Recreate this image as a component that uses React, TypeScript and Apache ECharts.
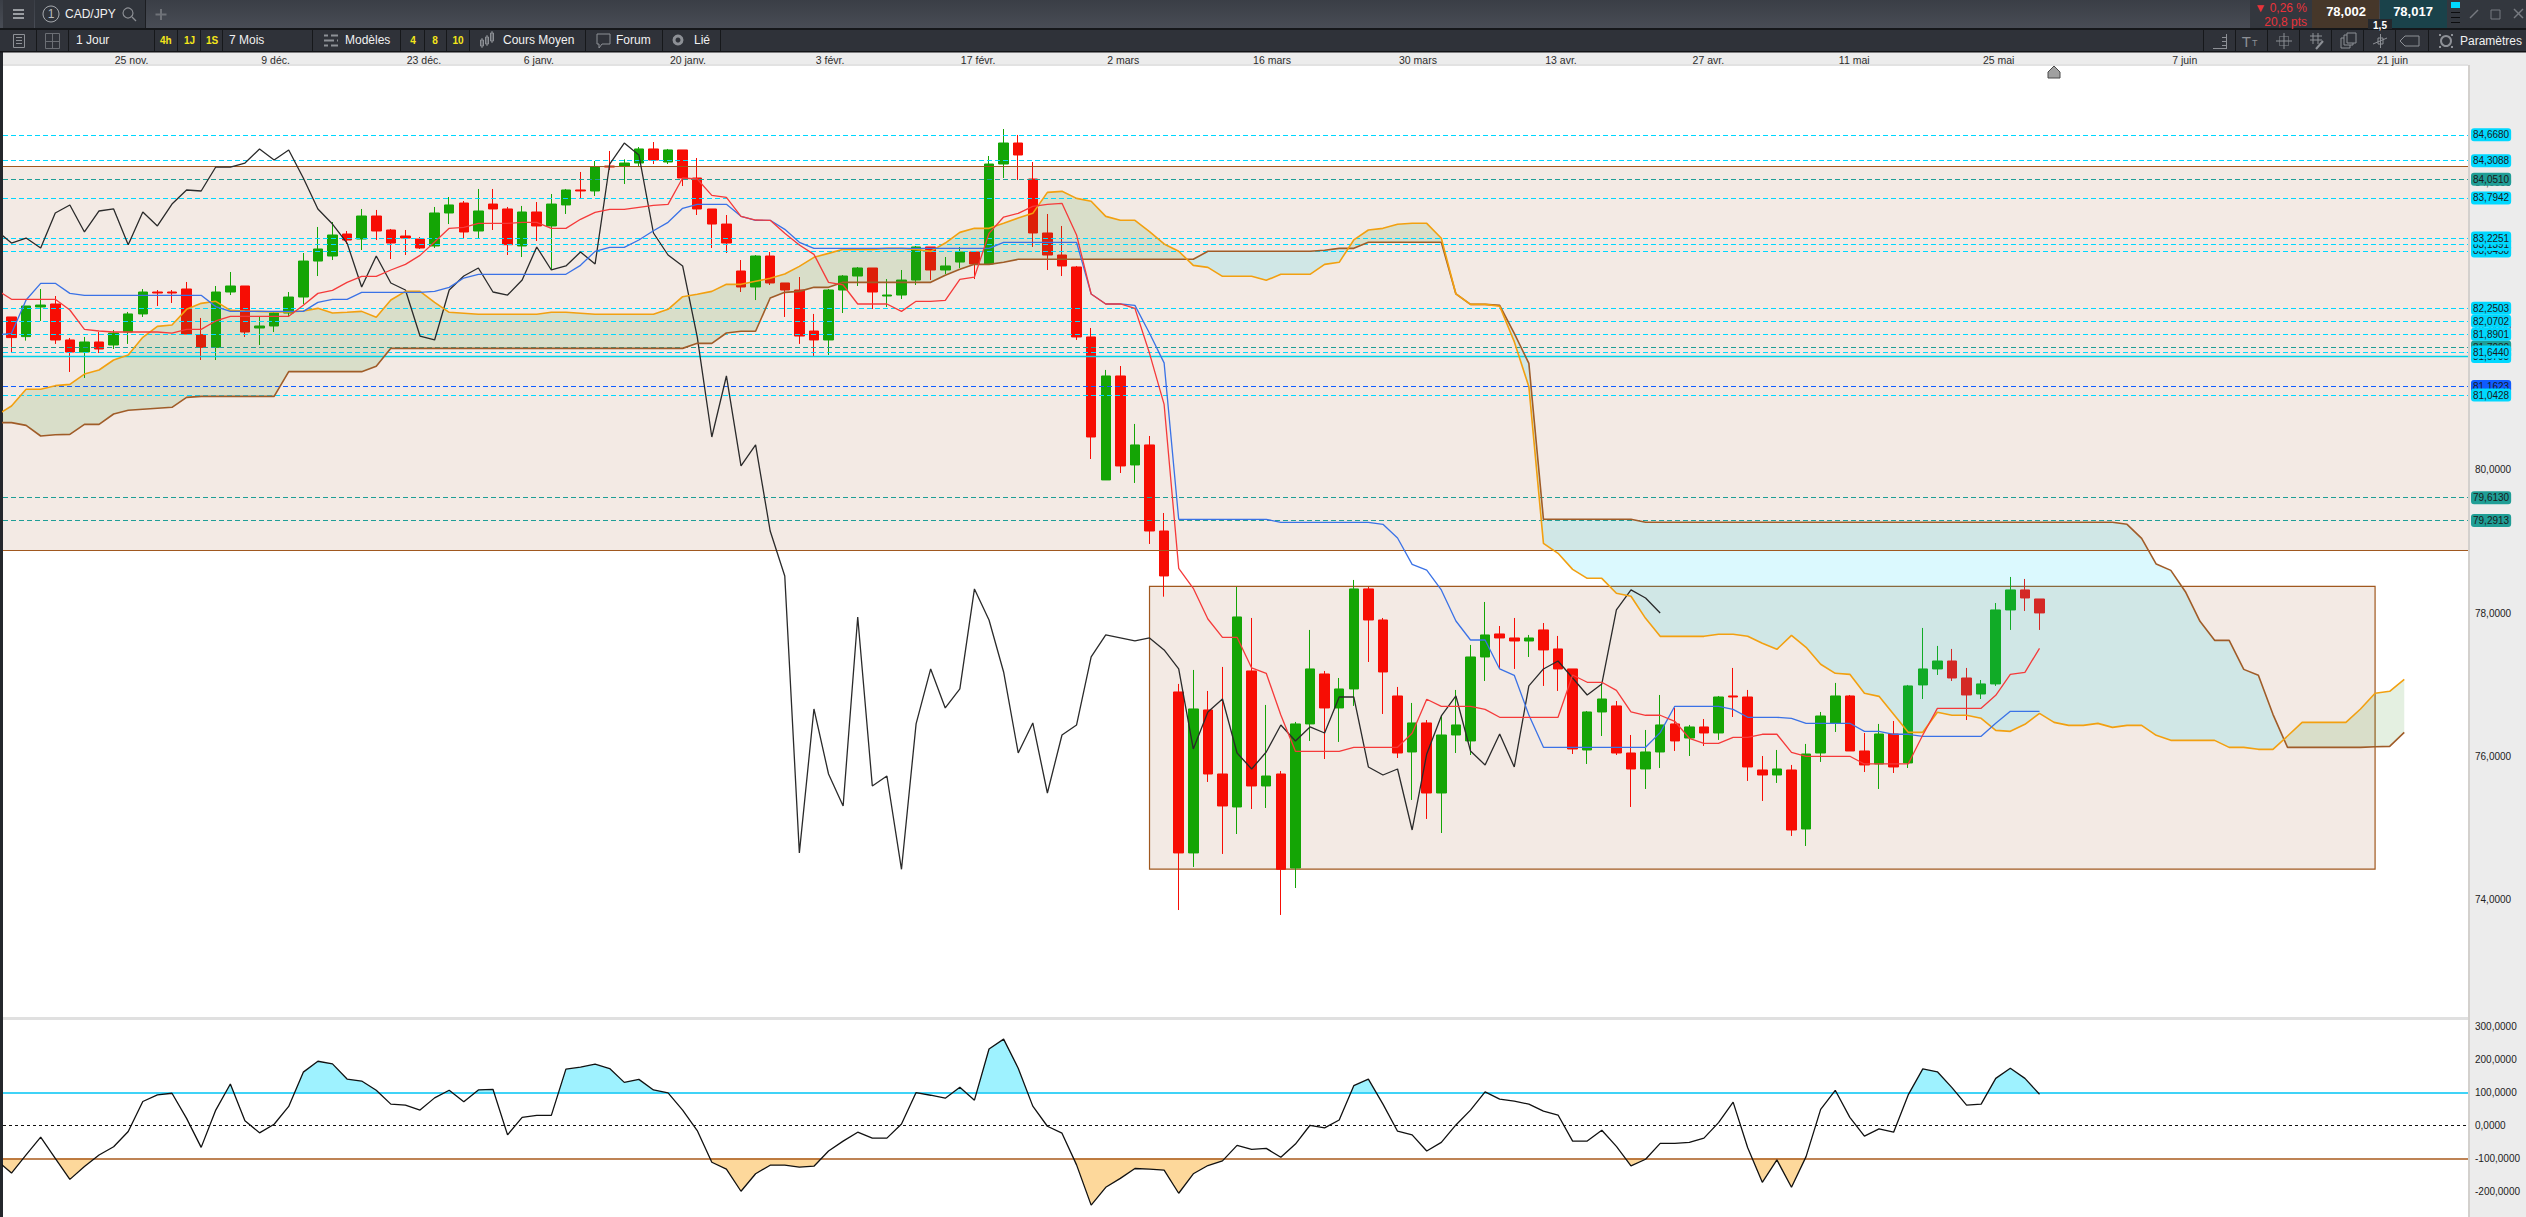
import React, { useEffect, useRef } from "react";
import * as echarts from "echarts";

const FONT = "'Liberation Sans', Arial, sans-serif";

// x positions are bar numbers; bar 0 is the first candle on the screen
const dateTickBars = [8.23, 18.1, 28.27, 36.15, 46.36, 56.1, 66.25, 76.2, 86.4, 96.4, 106.2, 116.3, 126.3, 136.2, 148.95, 163.2];
const dateTickLabels = ["25 nov.", "9 déc.", "23 déc.", "6 janv.", "20 janv.", "3 févr.", "17 févr.", "2 mars", "16 mars", "30 mars", "13 avr.", "27 avr.", "11 mai", "25 mai", "7 juin", "21 juin"];
const priceTicks = [74, 76, 78, 80, 82, 84];
const cciTicks = [-200, -100, 0, 100, 200, 300];

const opens = [
  82.130, 81.856, 82.269, 82.311, 81.809, 81.641, 81.781, 81.739, 81.920, 82.172,
  82.478, 82.478, 82.520, 81.883, 81.706, 82.478, 82.562, 81.976, 82.004, 82.185,
  82.408, 82.910, 82.980, 83.287, 83.217, 83.538, 83.343, 83.259, 83.217, 83.120,
  83.580, 83.719, 83.329, 83.705, 83.636, 83.120, 83.594, 83.399, 83.692, 83.901,
  83.887, 84.235, 84.235, 84.277, 84.473, 84.291, 84.459, 84.068, 83.636, 83.426,
  82.771, 82.548, 82.980, 82.604, 82.506, 81.934, 81.809, 82.506, 82.701, 82.813,
  82.422, 82.436, 82.645, 83.106, 82.785, 82.896, 83.036, 82.869, 84.263, 84.556,
  84.054, 83.301, 82.994, 82.827, 81.851, 79.857, 81.307, 80.066, 80.345, 79.145,
  76.900, 74.655, 76.649, 75.756, 75.296, 77.193, 75.589, 75.756, 74.445, 76.454,
  77.151, 76.677, 76.942, 78.337, 77.904, 76.844, 76.063, 76.468, 75.491, 76.300,
  76.217, 77.388, 77.709, 77.653, 77.611, 77.765, 77.500, 77.221, 76.091, 76.621,
  76.705, 76.049, 75.826, 76.063, 76.454, 76.258, 76.412, 76.328, 76.844, 76.830,
  75.812, 75.742, 75.812, 74.989, 76.049, 76.463, 76.844, 76.077, 75.896, 76.314,
  75.910, 76.998, 77.221, 77.332, 77.095, 76.872, 77.012, 78.044, 78.323, 78.197,
];
const closes = [
  81.842, 82.283, 82.296, 81.809, 81.641, 81.781, 81.683, 81.906, 82.172, 82.478,
  82.464, 82.464, 81.892, 81.706, 82.478, 82.562, 81.920, 82.004, 82.185, 82.408,
  82.910, 83.078, 83.273, 83.203, 83.538, 83.329, 83.161, 83.231, 83.092, 83.580,
  83.692, 83.315, 83.608, 83.636, 83.138, 83.594, 83.399, 83.705, 83.901, 83.887,
  84.221, 84.221, 84.277, 84.473, 84.319, 84.459, 84.068, 83.636, 83.426, 83.161,
  82.548, 82.980, 82.604, 82.506, 81.864, 81.809, 82.506, 82.701, 82.813, 82.478,
  82.436, 82.645, 83.106, 82.785, 82.841, 83.036, 82.869, 84.263, 84.556, 84.389,
  83.301, 82.994, 82.841, 81.851, 80.456, 81.307, 80.052, 80.345, 79.145, 78.518,
  74.655, 76.663, 75.756, 75.310, 77.946, 75.589, 75.728, 74.427, 76.454, 77.221,
  76.677, 76.942, 78.337, 77.904, 77.179, 76.049, 76.468, 75.491, 76.300, 76.440,
  77.388, 77.695, 77.653, 77.611, 77.653, 77.486, 77.221, 76.105, 76.621, 76.802,
  76.049, 75.826, 76.063, 76.440, 76.217, 76.412, 76.328, 76.830, 76.830, 75.854,
  75.742, 75.826, 74.975, 76.035, 76.565, 76.844, 76.077, 75.882, 76.314, 75.854,
  76.984, 77.221, 77.332, 77.095, 76.858, 77.012, 78.044, 78.323, 78.211, 78.002,
];
const lows = [
  81.632, 81.800, 82.074, 81.754, 81.363, 81.279, 81.627, 81.683, 81.754, 82.130,
  82.283, 82.325, 81.892, 81.530, 81.530, 82.436, 81.851, 81.739, 81.920, 82.144,
  82.311, 82.701, 82.924, 83.147, 83.064, 83.203, 82.938, 82.994, 83.078, 83.092,
  83.426, 83.231, 83.217, 83.343, 82.994, 82.966, 83.189, 82.785, 83.566, 83.789,
  83.817, 84.180, 83.984, 84.221, 84.263, 84.263, 83.956, 83.552, 83.092, 83.022,
  82.478, 82.366, 82.576, 82.130, 81.754, 81.586, 81.600, 82.185, 82.562, 82.241,
  82.269, 82.380, 82.576, 82.645, 82.729, 82.813, 82.659, 82.869, 84.068, 84.040,
  83.106, 82.785, 82.701, 81.809, 80.149, 79.857, 79.954, 79.815, 78.964, 78.229,
  73.859, 74.459, 75.645, 74.641, 74.919, 75.268, 75.282, 73.790, 74.166, 76.217,
  75.965, 76.203, 76.705, 77.318, 76.593, 75.979, 75.394, 75.129, 74.933, 76.049,
  76.021, 77.053, 77.221, 77.221, 77.388, 76.984, 76.914, 76.035, 75.896, 76.286,
  76.021, 75.296, 75.547, 75.840, 76.077, 76.007, 76.147, 76.231, 76.551, 75.659,
  75.380, 75.631, 74.892, 74.752, 75.924, 76.342, 76.077, 75.784, 75.547, 75.770,
  75.840, 76.802, 77.137, 77.053, 76.509, 76.802, 76.984, 77.765, 78.030, 77.765,
];
const highs = [
  82.130, 82.283, 82.520, 82.422, 81.837, 81.851, 81.920, 81.948, 82.200, 82.520,
  82.506, 82.506, 82.618, 82.116, 82.562, 82.757, 82.562, 82.130, 82.213, 82.478,
  83.022, 83.385, 83.454, 83.329, 83.636, 83.622, 83.357, 83.343, 83.245, 83.664,
  83.803, 83.747, 83.915, 83.915, 83.664, 83.678, 83.733, 83.845, 83.915, 84.152,
  84.305, 84.445, 84.328, 84.500, 84.570, 84.473, 84.459, 84.347, 83.636, 83.552,
  82.924, 82.994, 83.036, 82.604, 82.687, 82.172, 82.520, 82.715, 82.827, 82.813,
  82.659, 82.785, 83.120, 83.106, 82.966, 83.106, 83.036, 84.375, 84.751, 84.668,
  84.291, 83.566, 83.399, 82.841, 81.976, 81.391, 81.446, 80.638, 80.470, 79.396,
  77.012, 77.207, 76.914, 77.249, 78.364, 77.932, 76.719, 75.798, 76.482, 77.765,
  77.193, 77.095, 78.462, 78.364, 77.932, 76.970, 76.747, 76.509, 76.565, 76.928,
  77.556, 78.155, 77.820, 77.932, 77.695, 77.862, 77.681, 77.221, 76.635, 77.012,
  76.774, 76.300, 76.370, 76.858, 76.677, 76.440, 76.523, 76.844, 77.235, 76.928,
  76.007, 76.091, 75.882, 76.175, 76.621, 77.026, 76.858, 76.328, 76.454, 76.495,
  76.998, 77.793, 77.542, 77.500, 77.235, 77.067, 78.141, 78.504, 78.476, 78.197,
];

// the lists below start one bar left of the screen, at bar -1
const tenkan = [
  82.506, 82.376, 82.376, 82.376, 82.376, 82.227, 81.957, 81.934, 81.920, 81.920,
  81.920, 81.920, 81.906, 81.957, 81.957, 82.074, 82.139, 82.139, 82.139, 82.139,
  82.139, 82.292, 82.459, 82.501, 82.613, 82.697, 82.697, 82.785, 82.864, 82.989,
  83.175, 83.366, 83.380, 83.436, 83.436, 83.436, 83.450, 83.450, 83.366, 83.366,
  83.492, 83.589, 83.631, 83.631, 83.659, 83.687, 83.701, 84.068, 84.054, 83.826,
  83.798, 83.533, 83.482, 83.478, 83.296, 83.134, 83.003, 82.613, 82.576, 82.311,
  82.311, 82.311, 82.208, 82.348, 82.348, 82.362, 82.655, 82.687, 83.296, 83.524,
  83.575, 83.673, 83.701, 83.715, 83.273, 82.450, 82.311, 82.311, 82.250, 81.623,
  80.910, 78.625, 78.346, 77.918, 77.662, 77.662, 77.235, 77.160, 76.579, 76.072,
  76.072, 76.072, 76.072, 76.128, 76.128, 76.128, 76.128, 76.323, 76.798, 76.700,
  76.700, 76.700, 76.658, 76.547, 76.547, 76.547, 76.547, 76.547, 77.137, 77.035,
  77.035, 76.923, 76.621, 76.575, 76.575, 76.491, 76.254, 76.184, 76.184, 76.268,
  76.268, 76.310, 76.310, 76.058, 76.003, 76.003, 76.003, 76.003, 75.896, 75.896,
  75.896, 75.896, 76.300, 76.672, 76.672, 76.672, 76.672, 76.853, 77.146, 77.174,
  77.509,
];
const kijun = [
  81.878, 81.902, 82.366, 82.599, 82.599, 82.459, 82.432, 82.432, 82.432, 82.432,
  82.432, 82.432, 82.432, 82.432, 82.432, 82.274, 82.208, 82.208, 82.208, 82.208,
  82.208, 82.208, 82.334, 82.376, 82.376, 82.473, 82.473, 82.473, 82.473, 82.473,
  82.487, 82.543, 82.673, 82.725, 82.725, 82.725, 82.725, 82.725, 82.725, 82.725,
  82.850, 83.045, 83.101, 83.101, 83.203, 83.333, 83.450, 83.645, 83.701, 83.701,
  83.701, 83.533, 83.478, 83.478, 83.352, 83.171, 83.087, 83.087, 83.087, 83.087,
  83.087, 83.087, 83.087, 83.087, 83.087, 83.087, 83.087, 83.087, 83.087, 83.171,
  83.171, 83.171, 83.171, 83.171, 83.171, 82.450, 82.311, 82.311, 82.292, 81.902,
  81.490, 79.308, 79.308, 79.308, 79.308, 79.308, 79.308, 79.308, 79.266, 79.266,
  79.266, 79.266, 79.266, 79.266, 79.266, 79.238, 79.047, 78.680, 78.600, 78.323,
  77.890, 77.625, 77.625, 77.221, 77.132, 76.579, 76.128, 76.128, 76.128, 76.128,
  76.128, 76.128, 76.128, 76.128, 76.333, 76.700, 76.700, 76.700, 76.700, 76.658,
  76.547, 76.547, 76.547, 76.533, 76.463, 76.463, 76.463, 76.463, 76.351, 76.351,
  76.310, 76.310, 76.282, 76.282, 76.282, 76.282, 76.282, 76.463, 76.630, 76.630,
  76.630,
];
const senkouA = [
  80.763, 80.888, 81.121, 81.121, 81.172, 81.190, 81.334, 81.390, 81.530, 81.599,
  81.846, 81.999, 82.018, 82.236, 82.320, 82.348, 82.222, 82.213, 82.208, 82.199,
  82.199, 82.213, 82.250, 82.185, 82.195, 82.208, 82.125, 82.366, 82.487, 82.487,
  82.334, 82.195, 82.181, 82.167, 82.167, 82.167, 82.167, 82.167, 82.195, 82.195,
  82.181, 82.167, 82.167, 82.167, 82.167, 82.167, 82.236, 82.413, 82.446, 82.487,
  82.585, 82.585, 82.627, 82.669, 82.729, 82.836, 82.962, 83.017, 83.073, 83.073,
  83.073, 83.087, 83.087, 83.073, 83.045, 83.161, 83.310, 83.366, 83.366, 83.436,
  83.510, 83.575, 83.868, 83.882, 83.784, 83.743, 83.533, 83.478, 83.478, 83.320,
  83.148, 83.046, 82.850, 82.822, 82.697, 82.697, 82.697, 82.641, 82.725, 82.725,
  82.725, 82.864, 82.892, 83.204, 83.343, 83.366, 83.422, 83.436, 83.436, 83.227,
  82.451, 82.306, 82.306, 82.279, 81.786, 81.158, 78.973, 78.834, 78.610, 78.485,
  78.485, 78.276, 78.234, 77.927, 77.676, 77.676, 77.676, 77.676, 77.704, 77.704,
  77.676, 77.579, 77.495, 77.690, 77.523, 77.286, 77.160, 77.146, 76.881, 76.839,
  76.589, 76.337, 76.337, 76.616, 76.575, 76.575, 76.533, 76.365, 76.351, 76.449,
  76.602, 76.476, 76.434, 76.434, 76.462, 76.406, 76.434, 76.434, 76.295, 76.225,
  76.225, 76.225, 76.225, 76.127, 76.127, 76.100, 76.100, 76.286, 76.476, 76.476,
  76.476, 76.476, 76.662, 76.881, 76.909, 77.076,
];
const senkouB = [
  80.656, 80.656, 80.618, 80.470, 80.488, 80.493, 80.632, 80.632, 80.777, 80.828,
  80.842, 80.856, 80.870, 81.009, 81.023, 81.023, 81.023, 81.023, 81.023, 81.023,
  81.367, 81.367, 81.367, 81.367, 81.367, 81.367, 81.441, 81.692, 81.692, 81.692,
  81.692, 81.692, 81.692, 81.692, 81.692, 81.692, 81.692, 81.692, 81.692, 81.692,
  81.692, 81.692, 81.692, 81.692, 81.692, 81.692, 81.692, 81.692, 81.762, 81.762,
  81.906, 81.930, 81.930, 82.394, 82.473, 82.487, 82.543, 82.543, 82.613, 82.613,
  82.613, 82.613, 82.613, 82.613, 82.613, 82.711, 82.794, 82.864, 82.864, 82.892,
  82.934, 82.934, 82.934, 82.934, 82.934, 82.934, 82.934, 82.934, 82.934, 82.934,
  82.934, 82.934, 82.934, 83.046, 83.046, 83.046, 83.046, 83.046, 83.046, 83.046,
  83.046, 83.060, 83.087, 83.087, 83.171, 83.171, 83.171, 83.171, 83.171, 83.171,
  82.451, 82.306, 82.306, 82.292, 81.902, 81.483, 79.308, 79.308, 79.308, 79.308,
  79.308, 79.308, 79.308, 79.266, 79.266, 79.266, 79.266, 79.266, 79.266, 79.266,
  79.266, 79.266, 79.266, 79.266, 79.266, 79.266, 79.266, 79.266, 79.266, 79.266,
  79.266, 79.266, 79.266, 79.266, 79.266, 79.266, 79.266, 79.266, 79.266, 79.266,
  79.266, 79.266, 79.266, 79.266, 79.266, 79.266, 79.238, 79.042, 78.684, 78.596,
  78.298, 77.885, 77.620, 77.620, 77.215, 77.132, 76.588, 76.127, 76.127, 76.127,
  76.127, 76.127, 76.127, 76.137, 76.141, 76.337,
];
const cci = [
  -107, -145, -90, -36, -100, -164, -125, -90, -65, -19,
  72, 92, 97, 21, -67, 46, 125, 14, -23, 3,
  57, 161, 194, 186, 140, 134, 106, 64, 61, 46,
  83, 106, 71, 107, 109, -29, 24, 30, 30, 170,
  176, 185, 172, 130, 139, 107, 98, 46, -16, -112,
  -133, -200, -147, -121, -121, -127, -124, -78, -48, -21,
  -39, -39, 4, 99, 91, 82, 115, 76, 231, 261,
  173, 58, -3, -24, -120, -242, -188, -161, -131, -133,
  -136, -206, -147, -122, -108, -61, -73, -70, -97, -57,
  0, -8, 16, 120, 140, 64, -18, -29, -78, -52,
  1, 46, 101, 79, 73, 64, 43, 31, -48, -48,
  -15, -64, -123, -103, -55, -55, -52, -39, 8, 70,
  -68, -173, -105, -188, -95, 48, 106, 24, -33, -11,
  -21, 92, 171, 162, 114, 61, 64, 142, 173, 142,
  94,
];

const zoneLow = 78.87;
const zoneHigh = 84.23;
const boxLow = 74.43;
const boxHigh = 78.374;
const boxFirstBar = 78;
const boxLastBar = 162;
const cciUpper = 100;
const cciLower = -100;

// painted in this order, so the later tags lie over the earlier ones
const levelValues = [81.1623, 81.708, 81.5795, 84.051, 79.613, 79.2913, 84.668, 84.3088, 83.7942, 83.045, 83.1391, 83.2251, 82.2503, 82.0702, 81.8901, 81.644, 81.0428];
const levelKinds = ["blue", "teal", "solid", "teal", "teal", "teal", "cyan", "cyan", "cyan", "cyan", "cyan", "cyan", "cyan", "cyan", "cyan", "cyan", "cyan"];

const BAR_PX = 14.59;
const FIRST_BAR_PX = 11.5;
const PANE_LEFT = 3;
const PANE_RIGHT = 2468;
const PRICE_TOP = 65;
const PRICE_BOTTOM = 1018;
const CCI_TOP = 1020;

const KIND_COLOR: any = { cyan: "#00d8ff", teal: "#1f9e96", blue: "#0f5cff", solid: "#00d0e6" };
const fmt = (v: number) => v.toFixed(4).replace(".", ",");

type Pt = { x: number; a: number; b: number };
// Splits the band between two curves at their crossings; each part keeps its sign.
function bands(xs: number[], a: number[], b: number[]) {
  const out: { sign: number; pts: Pt[] }[] = [];
  let cur: Pt[] = [];
  let sign = 0;
  xs.forEach((x, i) => {
    const p = { x, a: a[i], b: b[i] };
    const d = p.a - p.b;
    const s = Math.sign(d);
    if (i > 0 && s !== 0 && sign !== 0 && s !== sign) {
      const q = cur[cur.length - 1];
      const dq = q.a - q.b;
      const t = dq / (dq - d);
      const c = { x: q.x + (x - q.x) * t, a: q.a + (p.a - q.a) * t, b: q.a + (p.a - q.a) * t };
      cur.push(c);
      out.push({ sign, pts: cur });
      cur = [c];
      sign = s;
    } else if (sign === 0) {
      sign = s;
    }
    cur.push(p);
  });
  out.push({ sign, pts: cur });
  return out;
}

function bandSeries(parts: { sign: number; pts: Pt[] }[], fill: (s: number) => string, axis: number, z: number) {
  return {
    type: "custom",
    xAxisIndex: axis,
    yAxisIndex: axis,
    z,
    clip: true,
    silent: true,
    encode: { x: 0, y: 1 },
    data: parts.map((p) => [p.pts[0].x, p.pts[0].a]),
    renderItem: (params: any, api: any) => {
      const part = parts[params.dataIndex];
      const top = part.pts.map((p) => api.coord([p.x, p.a]));
      const bottom = part.pts.map((p) => api.coord([p.x, p.b])).reverse();
      return { type: "polygon", shape: { points: top.concat(bottom) }, style: { fill: fill(part.sign), stroke: "none" } };
    },
  };
}

function toolbar() {
  const g: any[] = [];
  const bar = (x: number, y: number, w: number, h: number, fill: any, z = 5) =>
    g.push({ type: "rect", z, silent: true, shape: { x, y, width: w, height: h }, style: { fill } });
  const text = (x: number, y: number, t: string, fill: string, size = 12, weight = "normal", align = "left") =>
    g.push({ type: "text", z: 6, silent: true, x, y, style: { text: t, fill, fontSize: size, fontWeight: weight, fontFamily: FONT, textAlign: align, textVerticalAlign: "middle" } });
  const line = (x1: number, y1: number, x2: number, y2: number, stroke: string, w = 1) =>
    g.push({ type: "line", z: 6, silent: true, shape: { x1, y1, x2, y2 }, style: { stroke, lineWidth: w } });
  const circle = (cx: number, cy: number, r: number, stroke: string, w = 1) =>
    g.push({ type: "circle", z: 6, silent: true, shape: { cx, cy, r }, style: { fill: "none", stroke, lineWidth: w } });
  const GREY = "#8d9096";

  // backgrounds behind the chart
  bar(PANE_RIGHT, PRICE_TOP, 58, 1152, "#ececec", -1);
  bar(PANE_RIGHT, PRICE_TOP, 2, 1152, "#d3d0cd", -1);
  bar(0, 52, 2526, 13, "#ececec", -1);
  bar(0, 64, 2468, 2, "#e2e2e2", -1);
  bar(0, PRICE_BOTTOM - 1, 2468, 3, "#e0e0e0", 4);
  bar(0, 0, 3, 1217, "#24272c", 5);

  // first row
  bar(0, 0, 2526, 28, new echarts.graphic.LinearGradient(0, 0, 0, 1, [{ offset: 0, color: "#3a3e46" }, { offset: 1, color: "#484c55" }]));
  bar(0, 28, 2526, 2, "#15171a");
  bar(3, 0, 31, 28, "#33363d");
  [10, 14, 18].forEach((y) => bar(13, y - 1, 11, 2, "#9a9da2", 6));
  bar(35, 0, 110, 28, "#30343b");
  line(145.5, 0, 145.5, 28, "#1c1e22");
  circle(51, 14, 8, "#a8abb0");
  text(51, 14, "1", "#b8bbbf", 12, "normal", "center");
  text(65, 14, "CAD/JPY", "#f1f1f1");
  circle(128, 13, 5, "#8b8e93", 1.2);
  line(132, 17, 136, 21, "#8b8e93", 1.2);
  line(161, 9, 161, 20, "#6f7278", 2);
  line(155.5, 14.5, 166.5, 14.5, "#6f7278", 2);
  bar(2250, 0, 62, 28, "#33373e");
  text(2307, 8, "▼ 0,26 %", "#e8333a", 12, "normal", "right");
  text(2307, 22, "20,8 pts", "#e8333a", 12, "normal", "right");
  bar(2312, 0, 67, 28, "#46372a");
  text(2346, 11, "78,002", "#ffffff", 13, "bold", "center");
  bar(2380, 0, 67, 28, "#1a424a");
  text(2413, 11, "78,017", "#ffffff", 13, "bold", "center");
  bar(2368, 19, 24, 10, "#25282d", 6);
  g.push({ type: "text", z: 7, silent: true, x: 2380, y: 25, style: { text: "1,5", fill: "#ffffff", fontSize: 10, fontWeight: "bold", fontFamily: FONT, textAlign: "center", textVerticalAlign: "middle" } });
  bar(2447, 0, 79, 28, "#33373e");
  bar(2451, 2, 9, 6, "#00d8ff", 6);
  [12, 17, 22].forEach((y) => bar(2451, y, 9, 1, "#0b0c0e", 6));
  line(2470, 18, 2478, 10, "#777a80", 1.5);
  bar(2491, 9, 10, 10, "#33373e", 6);
  g.push({ type: "rect", z: 6, silent: true, shape: { x: 2491, y: 10, width: 9, height: 9 }, style: { fill: "none", stroke: "#777a80" } });
  line(2514, 9, 2523, 18, "#777a80", 1.5);
  line(2523, 9, 2514, 18, "#777a80", 1.5);

  // second row
  bar(0, 30, 2526, 21, "#2f3239");
  bar(0, 51, 2526, 1.5, "#121316");
  [36, 68, 154, 177, 200, 222, 312, 400, 424, 446, 469, 585, 662, 720, 2203, 2235, 2267, 2299, 2331, 2363, 2395, 2428].forEach((x) => line(x + 0.5, 30, x + 0.5, 51, "#16181b"));
  g.push({ type: "rect", z: 6, silent: true, shape: { x: 13.5, y: 34.5, width: 11, height: 13 }, style: { fill: "none", stroke: GREY } });
  [37, 40, 43].forEach((y) => line(16, y + 0.5, 22, y + 0.5, GREY));
  g.push({ type: "rect", z: 6, silent: true, shape: { x: 45.5, y: 33.5, width: 14, height: 15 }, style: { fill: "none", stroke: "#6b6e74" } });
  line(52.5, 34, 52.5, 48, "#6b6e74");
  line(46, 41.5, 59, 41.5, "#6b6e74");
  text(76, 40, "1 Jour", "#f1f1f1");
  text(160, 40, "4h", "#f4e61a", 10, "bold");
  text(184, 40, "1J", "#f4e61a", 10, "bold");
  text(206, 40, "1S", "#f4e61a", 10, "bold");
  text(229, 40, "7 Mois", "#f1f1f1");
  [35, 40, 45].forEach((y, i) => { line(324, y + 0.5, 338, y + 0.5, GREY, 2); bar(i === 1 ? 334 : 328, y - 1, 3, 3, "#2f3239", 7); });
  text(345, 40, "Modèles", "#f1f1f1");
  text(413, 40, "4", "#f4e61a", 10, "bold", "center");
  text(435, 40, "8", "#f4e61a", 10, "bold", "center");
  text(458, 40, "10", "#f4e61a", 10, "bold", "center");
  [[482, 40, 46], [487, 37, 44], [492, 33, 41]].forEach((c) => {
    g.push({ type: "rect", z: 6, silent: true, shape: { x: c[0] - 1.5, y: c[1], width: 3, height: c[2] - c[1] }, style: { fill: "none", stroke: GREY } });
    line(c[0], c[1] - 2, c[0], c[2] + 2, GREY);
  });
  text(503, 40, "Cours Moyen", "#f1f1f1");
  g.push({ type: "polyline", z: 6, silent: true, shape: { points: [[597, 34], [610, 34], [610, 44], [602, 44], [599, 48], [599, 44], [597, 44], [597, 34]] }, style: { fill: "none", stroke: GREY } });
  text(616, 40, "Forum", "#f1f1f1");
  circle(678, 40, 4, GREY, 3);
  text(694, 40, "Lié", "#f1f1f1");
  [37, 41, 45].forEach((y) => line(2222, y + 0.5, 2226, y + 0.5, GREY));
  line(2213, 48.5, 2227, 48.5, GREY);
  line(2226.5, 34, 2226.5, 48, GREY);
  text(2251, 41, "T", GREY, 15, "normal", "right");
  text(2252, 43, "T", GREY, 9);
  g.push({ type: "rect", z: 6, silent: true, shape: { x: 2279.5, y: 36.5, width: 9, height: 9 }, style: { fill: "none", stroke: GREY, lineDash: [1, 1] } });
  line(2284, 33, 2284, 49, GREY);
  line(2276, 41, 2292, 41, GREY);
  line(2310, 36, 2322, 36, GREY);
  line(2310, 40, 2322, 40, GREY);
  line(2313, 33, 2313, 44, GREY);
  line(2318, 33, 2318, 44, GREY);
  line(2316, 49, 2323, 41, GREY, 2);
  [[2341, 38], [2344, 35], [2347, 33]].forEach((c) => g.push({ type: "rect", z: 6, silent: true, shape: { x: c[0], y: c[1], width: 9, height: 10 }, style: { fill: "#2f3239", stroke: GREY } }));
  line(2373, 44, 2387, 38, GREY);
  g.push({ type: "rect", z: 6, silent: true, shape: { x: 2378, y: 38, width: 5, height: 6 }, style: { fill: "none", stroke: GREY } });
  line(2380.5, 34, 2380.5, 48, GREY);
  g.push({ type: "polyline", z: 6, silent: true, shape: { points: [[2405, 36], [2419, 36], [2419, 46], [2405, 46], [2400, 41], [2405, 36]] }, style: { fill: "none", stroke: GREY } });
  circle(2446, 41, 5, GREY, 2);
  [[2440, 35], [2452, 35], [2440, 47], [2452, 47]].forEach((c) => bar(c[0] - 1, c[1] - 1, 2, 2, GREY, 6));
  text(2460, 41, "Paramètres", "#f1f1f1");

  // marker under the date band
  g.push({ type: "polygon", z: 6, silent: true, shape: { points: [[2048, 72], [2054, 66], [2060, 72], [2060, 78], [2048, 78]] }, style: { fill: "#a0a0a0", stroke: "#4a4a4a" } });
  return g;
}

export default function App() {
  const ref = useRef<HTMLDivElement>(null);
  useEffect(() => {
    const chart = echarts.init(ref.current!, null, { renderer: "svg" });
    const barAt = (px: number) => (px - FIRST_BAR_PX) / BAR_PX;
    const xMin = barAt(PANE_LEFT);
    const xMax = barAt(PANE_RIGHT);

    const from = (list: number[], firstBar: number) => list.map((v, i) => [i + firstBar, v]);
    const chikou = closes.slice(25);
    const kumoXs = senkouA.map((_, i) => i - 1);
    const cciXs = cci.map((_, i) => i - 1);

    const levelMarks = levelValues.map((v, i) => {
      const kind = levelKinds[i];
      return {
        yAxis: v,
        lineStyle: { color: KIND_COLOR[kind], width: kind === "solid" ? 1.3 : 1, type: kind === "solid" ? "solid" : [5, 3] },
        label: {
          show: true,
          position: "end",
          distance: 3,
          formatter: fmt(v),
          backgroundColor: kind === "solid" ? "#00d8ff" : KIND_COLOR[kind],
          color: "#1a1a1a",
          fontSize: 10,
          fontFamily: FONT,
          padding: [2, 2, 1, 2],
          borderRadius: 3,
        },
      };
    });
    const zoneEdges = [zoneHigh, zoneLow].map((v) => ({
      yAxis: v,
      lineStyle: { color: "#a0581f", width: 1.2, type: "solid" },
      label: { show: false },
    }));

    const thresholdMarks = [
      { yAxis: cciUpper, lineStyle: { color: "#00c4f5", width: 1.5, type: "solid" } },
      { yAxis: 0, lineStyle: { color: "#111111", width: 1, type: [3, 3] } },
      { yAxis: cciLower, lineStyle: { color: "#a85a1c", width: 1.5, type: "solid" } },
    ];

    const lineSeries = (name: string, data: number[][], color: string, width: number) => ({
      name,
      type: "line",
      data,
      z: 5,
      silent: true,
      showSymbol: false,
      symbol: "none",
      clip: true,
      lineStyle: { color, width },
    });

    chart.setOption({
      animation: false,
      backgroundColor: "#ffffff",
      graphic: { elements: toolbar() },
      grid: [
        { left: PANE_LEFT, width: PANE_RIGHT - PANE_LEFT, top: PRICE_TOP, height: PRICE_BOTTOM - PRICE_TOP },
        { left: PANE_LEFT, width: PANE_RIGHT - PANE_LEFT, top: CCI_TOP, height: 1217 - CCI_TOP },
      ],
      xAxis: [
        {
          type: "value",
          gridIndex: 0,
          position: "top",
          min: xMin,
          max: xMax,
          axisLine: { show: false },
          axisTick: { show: false },
          splitLine: { show: false },
          axisLabel: {
            customValues: dateTickBars,
            formatter: (v: number) => dateTickLabels[dateTickBars.indexOf(v)] ?? "",
            color: "#2b2b2b",
            fontSize: 10.5,
            fontFamily: FONT,
            margin: 0,
          },
        },
        {
          type: "value",
          gridIndex: 1,
          min: xMin,
          max: xMax,
          axisLine: { show: false },
          axisTick: { show: false },
          splitLine: { show: false },
          axisLabel: { show: false },
        },
      ],
      yAxis: [
        {
          type: "value",
          gridIndex: 0,
          position: "right",
          min: 72.353,
          max: 85.644,
          axisLine: { show: false },
          axisTick: { show: false },
          splitLine: { show: false },
          axisLabel: { customValues: priceTicks, formatter: fmt, color: "#222222", fontSize: 10, fontFamily: FONT, margin: 7 },
        },
        {
          type: "value",
          gridIndex: 1,
          position: "right",
          min: -278,
          max: 319,
          axisLine: { show: false },
          axisTick: { show: false },
          splitLine: { show: false },
          axisLabel: { customValues: cciTicks, formatter: fmt, color: "#222222", fontSize: 10, fontFamily: FONT, margin: 7 },
        },
      ],
      series: [
        {
          name: "Niveaux",
          type: "line",
          z: 1,
          silent: true,
          data: [[0, 80]],
          symbol: "none",
          lineStyle: { opacity: 0 },
          markArea: {
            silent: true,
            data: [
              [{ xAxis: xMin, yAxis: zoneHigh, itemStyle: { color: "#f3eae4", borderWidth: 0 } }, { xAxis: xMax, yAxis: zoneLow }],
              [{ xAxis: boxFirstBar, yAxis: boxHigh, itemStyle: { color: "#f3eae4", borderColor: "#a0581f", borderWidth: 1.2 } }, { xAxis: boxLastBar, yAxis: boxLow }],
            ],
          },
          markLine: { silent: true, symbol: "none", animation: false, data: [...zoneEdges, ...levelMarks] },
        },
        {
          name: "CAD/JPY",
          type: "candlestick",
          z: 2,
          silent: true,
          barWidth: 10,
          itemStyle: { color: "#14a505", color0: "#f70d04", borderColor: "#14a505", borderColor0: "#f70d04", borderWidth: 1 },
          data: opens.map((o, i) => [i, o, closes[i], lows[i], highs[i]]),
        },
        bandSeries(bands(kumoXs, senkouA, senkouB), (s) => (s >= 0 ? "rgba(64,150,43,0.14)" : "rgba(0,210,250,0.14)"), 0, 3),
        lineSeries("Chikou", from(chikou, -1), "#2a2a2a", 1.3),
        lineSeries("Senkou B", from(senkouB, -1), "#a05c28", 1.6),
        lineSeries("Senkou A", from(senkouA, -1), "#f2a010", 1.6),
        lineSeries("Kijun", from(kijun, -1), "#3a72e6", 1.3),
        lineSeries("Tenkan", from(tenkan, -1), "#f53a3a", 1.3),
        {
          name: "Seuils",
          type: "line",
          xAxisIndex: 1,
          yAxisIndex: 1,
          z: 1,
          silent: true,
          data: [[0, 0]],
          symbol: "none",
          lineStyle: { opacity: 0 },
          markLine: { silent: true, symbol: "none", animation: false, label: { show: false }, data: thresholdMarks },
        },
        bandSeries(bands(cciXs, cci, cci.map(() => cciUpper)).filter((p) => p.sign > 0), () => "#9ef2ff", 1, 2),
        bandSeries(bands(cciXs, cci, cci.map(() => cciLower)).filter((p) => p.sign < 0), () => "#fdd89b", 1, 2),
        { ...lineSeries("CCI", from(cci, -1), "#111111", 1.3), xAxisIndex: 1, yAxisIndex: 1 },
      ],
    });
    return () => chart.dispose();
  }, []);
  return <div ref={ref} style={{ position: "fixed", left: 0, top: 0, width: 2526, height: 1217 }} />;
}
